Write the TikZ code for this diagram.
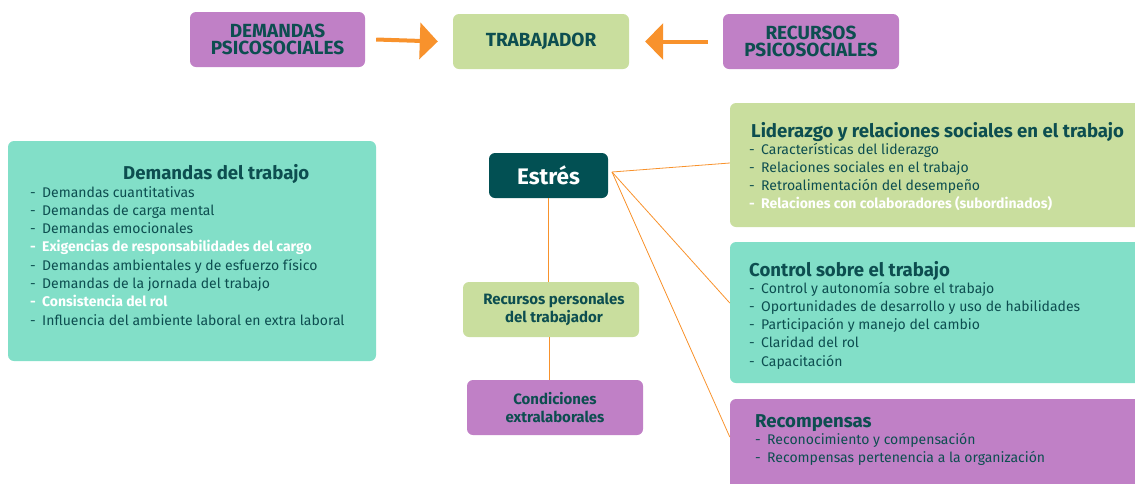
\documentclass[tikz,border=0pt]{standalone}
\usepackage{fontspec}
\setmainfont{Fira Sans}
\usetikzlibrary{arrows.meta,positioning}

\definecolor{boxpurple}{HTML}{C080C6}
\definecolor{boxgreen}{HTML}{C9DE9E}
\definecolor{boxteal}{HTML}{82DFC8}
\definecolor{darkteal}{HTML}{025053}
\definecolor{inkteal}{HTML}{0D4E50}
\definecolor{linkorange}{HTML}{F8922C}

\newcommand{\itm}{\makebox[12pt][l]{-}}
\newcommand{\hlitm}[1]{\textcolor{white}{\bfseries\itm#1}}

\tikzset{
  box/.style={rounded corners=6pt, inner sep=0pt, align=center, text=inkteal},
  purplebox/.style={box, fill=boxpurple},
  greenbox/.style={box, fill=boxgreen},
  tealbox/.style={box, fill=boxteal},
  capsfont/.style={font=\fontsize{19}{17.5}\selectfont\bfseries},
  midfont/.style={font=\fontsize{15}{18}\selectfont\bfseries},
  heading/.style={anchor=base west, inner sep=0pt, text=inkteal, font=\fontsize{18.6}{18}\selectfont\bfseries},
  % base of a list node is the baseline of its last line
  items/.style={anchor=base west, inner sep=0pt, align=left, text=inkteal, font=\fontsize{14}{18.3}\selectfont},
  link/.style={draw=linkorange, line width=0.8pt},
  bigarrow/.style={draw=linkorange, line width=4pt, -{Triangle[length=18pt,width=36pt]}}
}

\begin{document}
\begin{tikzpicture}[x=1pt, y=-1pt]
  \useasboundingbox (0,0) rectangle (1135,483);
  \clip (0,0) rectangle (1135,483);

  % top row
  \node[purplebox, capsfont, minimum width=175pt, minimum height=55pt] (demp) at (277.5,39.5) {DEMANDAS\\PSICOSOCIALES};
  \node[greenbox, capsfont, minimum width=176pt, minimum height=55pt] (trab) at (541,41.5) {TRABAJADOR};
  \node[purplebox, capsfont, minimum width=176pt, minimum height=55pt] (recp) at (811,41.5) {RECURSOS\\PSICOSOCIALES};
  \draw[bigarrow] ([xshift=11pt]demp.east) -- ([xshift=-15pt]trab.west);
  \draw[bigarrow] ([xshift=-15pt]recp.west) -- ([xshift=16pt]trab.east);

  % demandas del trabajo
  \node[tealbox, minimum width=368pt, minimum height=220pt] (demt) at (192,251) {};
  \node[heading] (demttitle) at (123,179) {Demandas del trabajo};
  \node[items] (demtlist) at (30,325.1) {\itm Demandas cuantitativas\\
    \itm Demandas de carga mental\\
    \itm Demandas emocionales\\
    \hlitm{Exigencias de responsabilidades del cargo}\\
    \itm Demandas ambientales y de esfuerzo físico\\
    \itm Demandas de la jornada del trabajo\\
    \hlitm{Consistencia del rol}\\
    \itm Influencia del ambiente laboral en extra laboral};

  % centre column
  \node[box, fill=darkteal, text=white, font=\fontsize{22.5}{24}\selectfont\bfseries, minimum width=119pt, minimum height=45pt] (estres) at (548.5,175.5) {Estrés};
  \node[greenbox, midfont, minimum width=176pt, minimum height=55pt] (recper) at (551,309.5) {\hspace*{6pt}Recursos personales\\\hspace*{6pt}del trabajador};
  \node[purplebox, midfont, minimum width=176pt, minimum height=55pt] (condex) at (555,407.5) {Condiciones\\extralaborales};
  \draw[link] (estres.south) -- (estres.south |- recper.north);
  \draw[link] ([xshift=-2pt]recper.south) -- ([xshift=-2pt]recper.south |- condex.north);

  % right column
  \node[greenbox, minimum width=420pt, minimum height=124pt] (lider) at (940,165) {};
  \node[heading] (lidertitle) at (751,137) {Liderazgo y relaciones sociales en el trabajo};
  \node[items] (liderlist) at (749,208.9) {\itm Características del liderazgo\\
    \itm Relaciones sociales en el trabajo\\
    \itm Retroalimentación del desempeño\\
    \hlitm{Relaciones con colaboradores (subordinados)}};

  \node[tealbox, minimum width=420pt, minimum height=141pt] (ctrl) at (940,312.5) {};
  \node[heading] (ctrltitle) at (749,276) {Control sobre el trabajo};
  \node[items] (ctrllist) at (749,366.2) {\itm Control y autonomía sobre el trabajo\\
    \itm Oportunidades de desarrollo y uso de habilidades\\
    \itm Participación y manejo del cambio\\
    \itm Claridad del rol\\
    \itm Capacitación};

  \node[purplebox, minimum width=420pt, minimum height=100pt] (recom) at (940,449) {};
  \node[heading] (recomtitle) at (755,427) {Recompensas};
  \node[items] (recomlist) at (755,462.3) {\itm Reconocimiento y compensación\\
    \itm Recompensas pertenencia a la organización};

  % links from estres
  \coordinate (hub) at (612,172);
  \draw[link] (hub) -- ([yshift=2pt]lider.west);
  \draw[link] (hub) -- ([yshift=9.5pt]ctrl.west);
  \draw[link] (hub) -- ([yshift=12pt]recom.west);
\end{tikzpicture}
\end{document}
